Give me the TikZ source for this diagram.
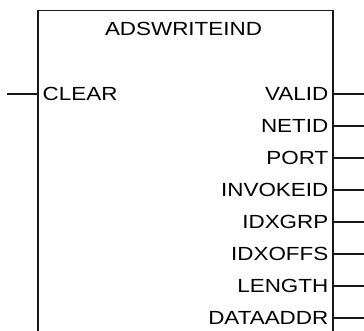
\documentclass[tikz,border=0pt]{standalone}
\usepackage{fontspec}
\setmainfont{Liberation Sans}[FakeStretch=1.18]
\begin{document}
\begin{tikzpicture}[x=1pt,y=-1pt,
  frame/.style={line width=1.8pt, draw=black!90},
  pinline/.style={line width=1.3pt, draw=black!90},
  lbl/.style={inner sep=0pt, font=\fontsize{19}{19}\selectfont}]
\useasboundingbox (0,0) rectangle (364,331);
% block outline (open at the bottom)
\coordinate (bl) at (38,331);
\coordinate (tl) at (38,10.5);
\coordinate (tr) at (333,10.5);
\coordinate (br) at (333,331);
\draw[frame] (bl) -- (tl) -- (tr) -- (br);
\node[lbl] (title) at (183.5,29) {ADSWRITEIND};
% input pin
\coordinate (in-clear) at (38,94);
\coordinate (in-clear-end) at (7,94);
\node[lbl, anchor=west] (clear) at (42.5,93.5) {CLEAR};
\draw[pinline] (in-clear-end) -- (in-clear);
% output pins
\foreach \pname [count=\i from 0] in {VALID,NETID,PORT,INVOKEID,IDXGRP,IDXOFFS,LENGTH,DATAADDR} {
  \coordinate (out-\i) at (333,94+32*\i);
  \coordinate (out-\i-end) at (364,94+32*\i);
  \node[lbl, anchor=east] (lbl-\i) at (328.5,93.5+32*\i) {\pname};
  \draw[pinline] (out-\i) -- (out-\i-end);
}
\end{tikzpicture}
\end{document}
